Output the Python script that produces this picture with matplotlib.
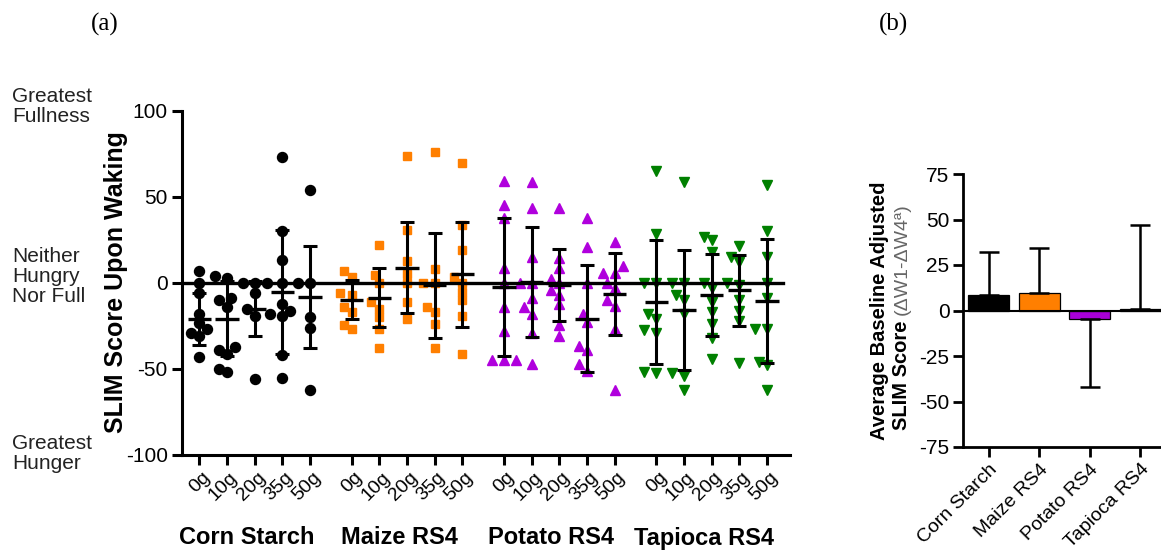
import numpy as np
import matplotlib
matplotlib.use("Agg")
import matplotlib.pyplot as plt
import matplotlib.transforms as mtrans

plt.rcParams['font.family'] = ['Liberation Sans', 'DejaVu Sans']
plt.rcParams['axes.unicode_minus'] = False

# ---------------- data ----------------
groups = ["Corn Starch", "Maize RS4", "Potato RS4", "Tapioca RS4"]
doses = ["0g", "10g", "20g", "35g", "50g"]
colors = ["#000000", "#FF7F00", "#B000DD", "#008000"]
markers = ["o", "s", "^", "v"]

corn_pts = [
    [7, 0, -6, -18, -23, -27, -29, -31, -43],
    [3, 4, -9, -10, -14, -37, -39, -41, -50, -52],
    [0, 0, 0, -6, -15, -19, -56],
    [73, 30, 13.5, 0, -12, -16, -18, -19, -42, -55],
    [54, 0, 0, -20, -26, -62],
]
maize_pts = [
    [7, 3.5, -6, -7, -14, -17, -24.5, -27],
    [22, 4.5, 0, -11, -15, -20, -26.5, -38],
    [74, 31, 13, 5, 0, -11, -21],
    [76, 8, 0, 0, -14, -17, -24, -38],
    [70, 34, 19, 3.5, 0, -5, -10, -19, -41],
]
potato_pts = [
    [59.5, 45.6, 38, 8.7, 0, -14, -28, -45, -45, -45],
    [58.5, 43.7, 15, 0, 0, -9, -14, -18, -29, -47],
    [43.7, 14.7, 9, 2.5, 0, -4, -7, -12, -24.5, -31],
    [38, 21, 0, -18, -22.6, -36.5, -39, -47, -51],
    [24, 10, 6, 6, 0, -3, -10, -13.5, -27, -62],
]
tapioca_pts = [
    [65, 28.6, 0, 0, -18, -20.7, -27.4, -29, -52.6, -51.6],
    [58.5, 0, 0, -7, -10, -18, -52.6, -54, -62],
    [27, 25, 18, 0, -3, -11, -17, -24, -31.7, -44.4],
    [21.5, 15, 12, 0, -1.4, -10, -16, -22, -46.8],
    [57, 30.5, 15, 0, -9, -27, -27, -45.8, -47.7, -62],
]
all_pts = [corn_pts, maize_pts, potato_pts, tapioca_pts]

corn_mean = [-21, -20.7, -15, -5, -8]
corn_sd = [15, 22, 16, 36, 29.5]
maize_mean = [-9.7, -8.5, 9, -1.4, 5]
maize_sd = [11.3, 17, 26.5, 30.4, 30.4]
potato_mean = [-2.3, 0.6, -1, -20.7, -6.6]
potato_sd = [39.9, 32, 21, 31, 23.8]
tapioca_mean = [-11, -15.5, -6.8, -4.3, -10.4]
tapioca_sd = [36, 34.8, 23.8, 20.6, 36]
all_mean = [corn_mean, maize_mean, potato_mean, tapioca_mean]
all_sd = [corn_sd, maize_sd, potato_sd, tapioca_sd]

bar_labels = ["Corn Starch", "Maize RS4", "Potato RS4", "Tapioca RS4"]
bar_means = [8.4, 9.7, -4.4, 0.9]
bar_err = [23.6, 24.7, 37.6, 46.1]
bar_colors = ["#000000", "#FF7F00", "#A800D8", "#0B6B0B"]

# ---------------- figure ----------------
W, H = 1161, 554
fig = plt.figure(figsize=(W / 100, H / 100), dpi=100)

def fx(px):
    return px / W

def fy(py):
    return 1 - py / H

# left panel
lx0, lx1, ly0, ly1 = 181.7, 790, 111, 455
ax = fig.add_axes([fx(lx0), fy(ly1), fx(lx1 - lx0), (ly1 - ly0) / H])
xmin, xmax = -0.635, 21.33
ax.set_xlim(xmin, xmax)
ax.set_ylim(-100, 100)
xppu = (lx1 - lx0) / (xmax - xmin)
yppu = (ly1 - ly0) / 200.0

def swarm(vals, center, dmin=8.5, step=4.0):
    vals = np.asarray(vals, float)
    order = np.argsort(vals)
    placed = []
    xs = np.zeros(len(vals))
    cands = [0.0]
    for k in range(1, 12):
        cands += [-k * step, k * step]
    for idx in order:
        ypx = vals[idx] * yppu
        chosen = cands[-1]
        for c in cands:
            if all((c - px) ** 2 + (ypx - py) ** 2 >= dmin ** 2 for px, py in placed):
                chosen = c
                break
        placed.append((chosen, ypx))
        xs[idx] = center + chosen / xppu
    return xs

positions = []
for g in range(4):
    for i in range(5):
        pos = g * 5.5 + i
        positions.append(pos)
        vals = all_pts[g][i]
        xs = swarm(vals, pos)
        ms = 6.3 if markers[g] == "s" else 7.2
        ax.plot(xs, vals, linestyle="none", marker=markers[g], ms=ms,
                color=colors[g], mec=colors[g], zorder=2)
        m = all_mean[g][i]
        s = all_sd[g][i]
        ax.errorbar([pos], [m], yerr=[s], fmt="none", ecolor="black",
                    elinewidth=2.2, capsize=5, capthick=2.2, zorder=4)
        ax.hlines(m, pos - 0.42, pos + 0.42, color="black", lw=2.4, zorder=4)

ax.axhline(0, xmin=0, xmax=(21.09 - xmin) / (xmax - xmin), color="black", lw=2.4, zorder=3)

for sp in ["top", "right"]:
    ax.spines[sp].set_visible(False)
for sp in ["left", "bottom"]:
    ax.spines[sp].set_linewidth(2.2)
ax.set_yticks([-100, -50, 0, 50, 100])
ax.tick_params(axis="both", direction="out", length=7, width=2.2, labelsize=15, pad=3)
ax.set_xticks(positions)
ax.set_xticklabels(doses * 4, rotation=45, ha="right", va="center",
                   rotation_mode="anchor", fontsize=14)
off = mtrans.ScaledTranslation(8 / 100, -6 / 100, fig.dpi_scale_trans)
for lab in ax.get_xticklabels():
    lab.set_transform(lab.get_transform() + off)

ax.text(fx(116), fy(281.7), "SLIM Score Upon Waking", transform=fig.transFigure,
        rotation=90, ha="center", va="center", fontsize=18, fontweight="bold")

# group labels
for g in range(4):
    cpx = lx0 + (g * 5.5 + 2 - xmin) * xppu - 8
    fig.text(fx(cpx), fy(538), groups[g], ha="center", va="center",
             fontsize=17, fontweight="bold")

# side annotations
ann_color = "#222222"
fig.text(fx(12), fy(106.5), "Greatest\nFullness", ha="left", va="center",
         fontsize=15, color=ann_color, linespacing=1.1)
fig.text(fx(12), fy(276.5), "Neither\nHungry\nNor Full", ha="left", va="center",
         fontsize=15, color=ann_color, linespacing=1.1)
fig.text(fx(12), fy(453.5), "Greatest\nHunger", ha="left", va="center",
         fontsize=15, color=ann_color, linespacing=1.1)

# panel letters
fig.text(fx(105), fy(24), "(a)", ha="center", va="center", fontsize=18,
         family=["Liberation Serif", "DejaVu Serif"])
fig.text(fx(893), fy(24), "(b)", ha="center", va="center", fontsize=18,
         family=["Liberation Serif", "DejaVu Serif"])

# ---------------- right panel ----------------
rx0, ry0, ry1 = 963.3, 174, 447
unit = 50.6
ax2 = fig.add_axes([fx(rx0), fy(ry1), fx(4 * unit), (ry1 - ry0) / H])
ax2.set_xlim(-0.5, 3.5)
ax2.set_ylim(-75, 75)
bx = np.arange(len(bar_labels))
ax2.bar(bx, bar_means, width=0.81, color=bar_colors, edgecolor="black",
        linewidth=0.9, zorder=2)
lower = [e if m < 0 else 0 for m, e in zip(bar_means, bar_err)]
upper = [e if m >= 0 else 0 for m, e in zip(bar_means, bar_err)]
ax2.errorbar(bx, bar_means, yerr=[lower, upper], fmt="none", ecolor="black",
             elinewidth=1.8, capsize=7.5, capthick=1.8, zorder=3)
ax2.axhline(0, color="black", lw=1.5, zorder=2.5)
for sp in ["top", "right"]:
    ax2.spines[sp].set_visible(False)
for sp in ["left", "bottom"]:
    ax2.spines[sp].set_linewidth(2.0)
ax2.set_yticks([-75, -50, -25, 0, 25, 50, 75])
ax2.tick_params(axis="both", direction="out", length=7, width=2.0, labelsize=15, pad=3)
ax2.set_xticks(bx)
ax2.set_xticklabels(bar_labels, rotation=45, ha="right", va="center",
                    rotation_mode="anchor", fontsize=14)
off2 = mtrans.ScaledTranslation(6 / 100, -6 / 100, fig.dpi_scale_trans)
for lab in ax2.get_xticklabels():
    lab.set_transform(lab.get_transform() + off2)

fig.text(fx(885), fy(440), "Average Baseline Adjusted", rotation=90,
         rotation_mode="anchor", ha="left", va="baseline", fontsize=14.5,
         fontweight="bold")
fig.text(fx(907), fy(430), "SLIM Score", rotation=90, rotation_mode="anchor",
         ha="left", va="baseline", fontsize=14.5, fontweight="bold")
fig.text(fx(907), fy(315), "(\u0394W1-\u0394W4\u00aa)", rotation=90,
         rotation_mode="anchor", ha="left", va="baseline", fontsize=14,
         color="#666666")

fig.savefig("out.png", dpi=100)
